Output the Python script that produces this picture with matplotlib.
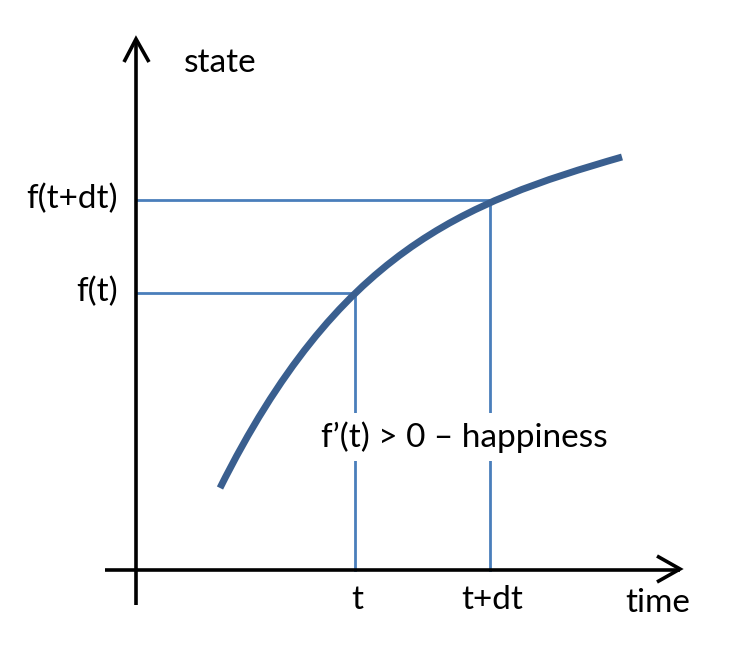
import matplotlib.pyplot as plt
from matplotlib.path import Path
from matplotlib.patches import PathPatch

# curve as one cubic Bezier
# (x to the right of the y axis, y above the x axis, in px)
curve_x = [84, 202, 326, 486]
curve_y = [82, 318, 367, 413]

# the two marked moments and their states
mark_x = [219, 354]
mark_y = [277, 370]
x_labels = ["t", "t+dt"]
y_labels = ["f(t)", "f(t+dt)"]

plt.rcParams['font.family'] = ['Lato', 'DejaVu Sans']

fig = plt.figure(figsize=(7.38, 6.53), dpi=100)
ax = fig.add_axes([0, 0, 1, 1])
ax.set_xlim(-136, 602)
ax.set_ylim(-83, 570)
ax.axis("off")

axis_kw = dict(color="black", lw=2.6, solid_capstyle="butt", zorder=3)
# axes with open arrow heads
ax.plot([0, 0], [-35, 530], **axis_kw)
ax.plot([-12, 0, 13], [508, 531, 508], solid_joinstyle="miter", **axis_kw)
ax.plot([-31, 544], [0, 0], **axis_kw)
ax.plot([521, 544, 521], [14, 1, -12], solid_joinstyle="miter", **axis_kw)

guide = "#4a7ebb"
for x, y in zip(mark_x, mark_y):
    ax.plot([0, x], [y, y], color=guide, lw=2, zorder=1)
    ax.plot([x, x], [0, y], color=guide, lw=2, zorder=1)

path = Path(list(zip(curve_x, curve_y)),
            [Path.MOVETO, Path.CURVE4, Path.CURVE4, Path.CURVE4])
ax.add_patch(PathPatch(path, facecolor="none", edgecolor="#3a5f8f", lw=5,
                       capstyle="butt", zorder=2))

fs = 24
for x, lab in zip(mark_x, x_labels):
    ax.text(x + 2, -30, lab, fontsize=fs, ha="center", va="center")
for y, lab in zip(mark_y, y_labels):
    ax.text(-18, y + 1, lab, fontsize=fs, ha="right", va="center")
ax.text(84, 507, "state", fontsize=fs, ha="center", va="center")
ax.text(522, -33, "time", fontsize=fs, ha="center", va="center")
ax.text(328, 133, "f\u2019(t) > 0 \u2013 happiness", fontsize=fs, ha="center", va="center",
        zorder=4, bbox=dict(facecolor="white", edgecolor="none", pad=6))

fig.savefig("out.png", dpi=100)
